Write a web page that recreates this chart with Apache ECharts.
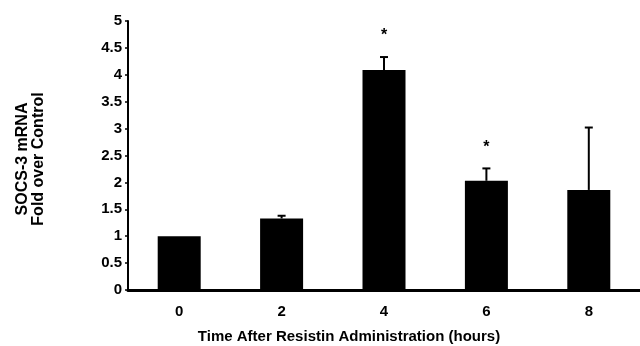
<!DOCTYPE html>
<html>
<head>
<meta charset="utf-8">
<script src="https://cdn.jsdelivr.net/npm/echarts@6/dist/echarts.min.js"></script>
<style>html,body{margin:0;padding:0;background:#fff;}#c{width:640px;height:346px;}</style>
</head>
<body>
<div id="c"></div>
<script>
var categories = ['0', '2', '4', '6', '8'];
var means = [1.0, 1.33, 4.09, 2.03, 1.86];
var upperErrors = [0, 0.05, 0.24, 0.23, 1.16];
var significant = [false, false, true, true, false];
var yTicks = [0, 0.5, 1, 1.5, 2, 2.5, 3, 3.5, 4, 4.5, 5];
var yTitle = 'SOCS-3 mRNA\nFold over Control';
var xTitle = 'Time After Resistin Administration (hours)';

var FONT = '"Liberation Sans", Arial, Helvetica, sans-serif';
var chart = echarts.init(document.getElementById('c'), null, {renderer: 'canvas'});

var errData = [];
means.forEach(function (m, i) { if (upperErrors[i] > 0) errData.push([i, m, m + upperErrors[i]]); });
var starData = [];
significant.forEach(function (s, i) { if (s) starData.push([i, means[i] + upperErrors[i]]); });

chart.setOption({
  animation: false,
  backgroundColor: '#fff',
  grid: {left: 128, top: 21, bottom: 56, right: -5},
  title: {
    text: xTitle,
    left: 344, top: 324, textAlign: 'center',
    textStyle: {fontFamily: FONT, fontWeight: 'bold', fontSize: 15, color: '#000'}
  },
  graphic: [{
    type: 'text',
    x: 30.5, y: 159,
    rotation: Math.PI / 2,
    style: {text: yTitle, fontFamily: FONT, fontWeight: 'bold', fontSize: 16, lineHeight: 16,
      fill: '#000', align: 'center', verticalAlign: 'middle'}
  }],
  xAxis: {
    type: 'category',
    data: categories,
    axisLine: {lineStyle: {color: '#000', width: 3}},
    axisTick: {show: false},
    axisLabel: {color: '#000', fontFamily: FONT, fontWeight: 'bold', fontSize: 15, margin: 14}
  },
  yAxis: {
    type: 'value',
    min: yTicks[0], max: yTicks[yTicks.length - 1], interval: yTicks[1] - yTicks[0],
    splitLine: {show: false},
    axisLine: {show: true, lineStyle: {color: '#000', width: 2}},
    axisTick: {show: true, inside: false, length: 3, lineStyle: {color: '#000', width: 1.5}},
    axisLabel: {color: '#000', fontFamily: FONT, fontWeight: 'bold', fontSize: 15, margin: 6,
      formatter: function (v) { return String(v); }}
  },
  series: [
    {
      type: 'bar',
      data: means,
      barWidth: 43,
      itemStyle: {color: '#000'},
      z: 2
    },
    {
      type: 'custom',
      data: errData,
      z: 3,
      renderItem: function (params, api) {
        var x = api.value(0);
        var lo = api.coord([x, api.value(1)]);
        var hi = api.coord([x, api.value(2)]);
        var hw = 4;
        return {
          type: 'group',
          children: [
            {type: 'line', shape: {x1: lo[0], y1: lo[1], x2: hi[0], y2: hi[1]}, style: {stroke: '#000', lineWidth: 2}},
            {type: 'line', shape: {x1: hi[0] - hw, y1: hi[1], x2: hi[0] + hw, y2: hi[1]}, style: {stroke: '#000', lineWidth: 2}}
          ]
        };
      }
    },
    {
      type: 'custom',
      data: starData,
      z: 4,
      renderItem: function (params, api) {
        var p = api.coord([api.value(0), api.value(1)]);
        return {
          type: 'text',
          x: p[0], y: p[1] - 21,
          style: {text: '*', fill: '#000', fontFamily: FONT, fontWeight: 'bold', fontSize: 16, align: 'center', verticalAlign: 'middle'}
        };
      }
    }
  ]
});
</script>
</body>
</html>
